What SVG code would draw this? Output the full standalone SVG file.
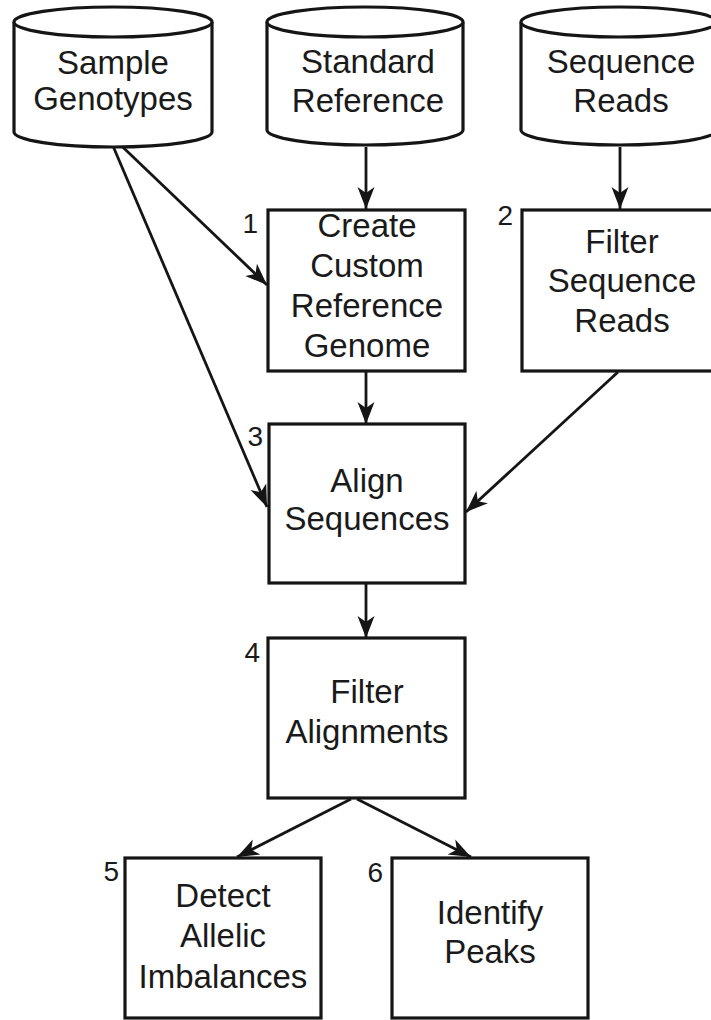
<svg xmlns="http://www.w3.org/2000/svg" width="711" height="1020" viewBox="0 0 711 1020">
<style>
.shape{fill:#ffffff;stroke:#151515;stroke-width:3.2}
.lbl{font-family:'Liberation Sans',Arimo,Helvetica,Arial,sans-serif;font-size:33px;fill:#1a1a1a;text-anchor:middle}
.num{font-family:'Liberation Sans',Arimo,Helvetica,Arial,sans-serif;font-size:28px;fill:#1a1a1a;text-anchor:end}
.conn{fill:none;stroke:#151515;stroke-width:2.8}
</style>
<defs>
<marker id="ah" markerUnits="userSpaceOnUse" markerWidth="24" markerHeight="20" viewBox="0 0 24 20" refX="22" refY="10" orient="auto">
<path d="M0,1.5 L22,10 L0,18.5 L6,10 Z" fill="#151515"/>
</marker>
</defs>
<rect width="711" height="1020" fill="#ffffff"/>
<g id="connectors">
<line class="conn" x1="107" y1="132" x2="267" y2="285" marker-end="url(#ah)"/>
<line class="conn" x1="107" y1="132" x2="267" y2="507" marker-end="url(#ah)"/>
<line class="conn" x1="366" y1="147" x2="366" y2="209" marker-end="url(#ah)"/>
<line class="conn" x1="620" y1="147" x2="620" y2="209" marker-end="url(#ah)"/>
<line class="conn" x1="366" y1="371" x2="366" y2="424" marker-end="url(#ah)"/>
<line class="conn" x1="618" y1="372" x2="466" y2="512" marker-end="url(#ah)"/>
<line class="conn" x1="366" y1="583" x2="366" y2="638" marker-end="url(#ah)"/>
<line class="conn" x1="351" y1="799" x2="237" y2="857" marker-end="url(#ah)"/>
<line class="conn" x1="357" y1="799" x2="471" y2="857" marker-end="url(#ah)"/>
</g>
<g id="sample-genotypes">
<path class="shape" d="M14,22 A99,15 0 0 1 212,22 L212,132 A99,15 0 0 1 14,132 Z"/>
<path class="shape" d="M14,22 A99,15 0 0 0 212,22" fill="none"/>
<text class="lbl" x="113" y="74" font-family="Liberation Sans">Sample</text>
<text class="lbl" x="113" y="110" font-family="Liberation Sans">Genotypes</text>
</g>
<g id="standard-reference">
<path class="shape" d="M267,22 A98,15 0 0 1 463,22 L463,130 A98,15 0 0 1 267,130 Z"/>
<path class="shape" d="M267,22 A98,15 0 0 0 463,22" fill="none"/>
<text class="lbl" x="368" y="73">Standard</text>
<text class="lbl" x="368" y="112">Reference</text>
</g>
<g id="sequence-reads">
<path class="shape" d="M521,22 A98,15 0 0 1 717,22 L717,130 A98,15 0 0 1 521,130 Z"/>
<path class="shape" d="M521,22 A98,15 0 0 0 717,22" fill="none"/>
<text class="lbl" x="621" y="73">Sequence</text>
<text class="lbl" x="621" y="112">Reads</text>
</g>
<g id="step1">
<rect class="shape" x="268" y="210" width="197" height="161"/>
<text class="num" x="258" y="233">1</text>
<text class="lbl" x="367" y="237">Create</text>
<text class="lbl" x="367" y="277">Custom</text>
<text class="lbl" x="367" y="317">Reference</text>
<text class="lbl" x="367" y="357">Genome</text>
</g>
<g id="step2">
<rect class="shape" x="522" y="210" width="197" height="161"/>
<text class="num" x="513" y="225">2</text>
<text class="lbl" x="622" y="253">Filter</text>
<text class="lbl" x="622" y="292">Sequence</text>
<text class="lbl" x="622" y="332">Reads</text>
</g>
<g id="step3">
<rect class="shape" x="269" y="424" width="196" height="159"/>
<text class="num" x="263" y="446">3</text>
<text class="lbl" x="367" y="492">Align</text>
<text class="lbl" x="367" y="530">Sequences</text>
</g>
<g id="step4">
<rect class="shape" x="268" y="638" width="197" height="160"/>
<text class="num" x="260" y="662">4</text>
<text class="lbl" x="367" y="703">Filter</text>
<text class="lbl" x="367" y="743">Alignments</text>
</g>
<g id="step5">
<rect class="shape" x="125" y="858" width="196" height="160"/>
<text class="num" x="119" y="881">5</text>
<text class="lbl" x="223" y="907">Detect</text>
<text class="lbl" x="223" y="947">Allelic</text>
<text class="lbl" x="223" y="988">Imbalances</text>
</g>
<g id="step6">
<rect class="shape" x="392" y="858" width="196" height="160"/>
<text class="num" x="383" y="882">6</text>
<text class="lbl" x="490" y="924">Identify</text>
<text class="lbl" x="490" y="963">Peaks</text>
</g>
</svg>
